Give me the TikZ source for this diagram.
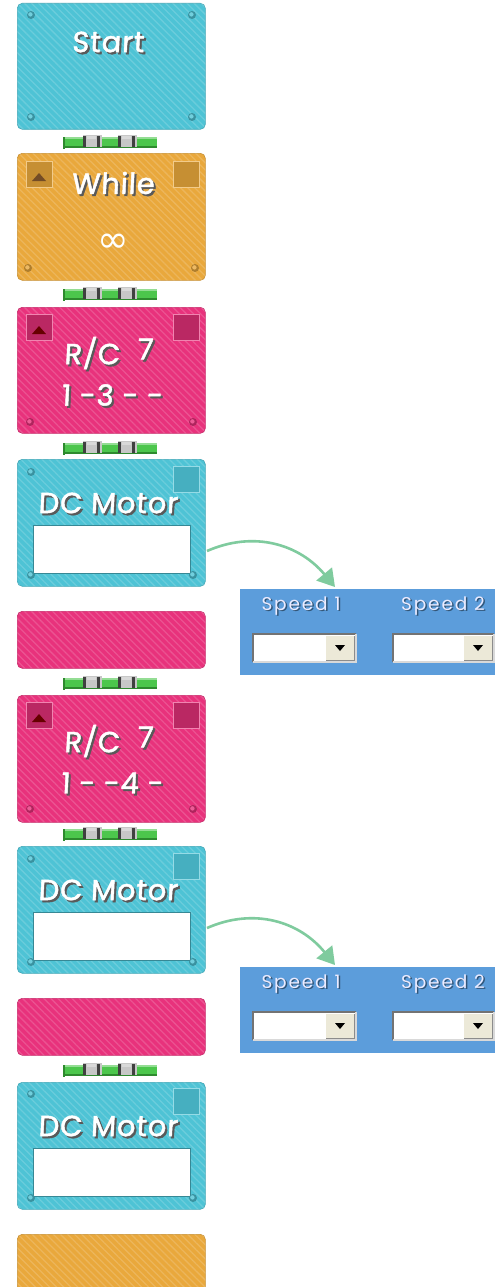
\documentclass[tikz,border=0pt]{standalone}
\usepackage{fontspec}
\newfontfamily\blkfont{Poppins}[FakeBold=1.6, FakeSlant=0.05, LetterSpace=3]
\newfontfamily\spdfont{Poppins}[LetterSpace=10]
\newfontfamily\symfont{DejaVu Sans}
\usetikzlibrary{patterns.meta,arrows.meta,calc}
\definecolor{cyanC}{HTML}{4EC3D5}
\definecolor{orangeC}{HTML}{E9A83C}
\definecolor{pinkC}{HTML}{E8327C}
\definecolor{panelC}{HTML}{5C9DDB}
\definecolor{arrowC}{HTML}{7FCB9E}
\definecolor{linkG}{HTML}{4CC64C}
\definecolor{linkD}{HTML}{2E8A2E}
\definecolor{btnC}{HTML}{ECE9D8}
\tikzset{
  blk/.style={rounded corners=5pt, minimum width=188pt, inner sep=0pt, anchor=north west,
    postaction={pattern={Lines[angle=-45,distance=5pt,line width=1.3pt]}, pattern color=white, opacity=0.16}},
  cyanblk/.style={blk, fill=cyanC, draw=cyanC!85!black, line width=0.6pt},
  orangeblk/.style={blk, fill=orangeC, draw=orangeC!85!black, line width=0.6pt},
  pinkblk/.style={blk, fill=pinkC, draw=pinkC!85!black, line width=0.6pt},
  title/.style={font=\blkfont\fontsize{29}{31}\selectfont, text=white, inner sep=0pt},
  titlesh/.style={font=\blkfont\fontsize{29}{31}\selectfont, text=black!65, inner sep=0pt},
  speedtxt/.style={font=\spdfont\fontsize{18.5}{20}\selectfont, text=blue!8!white, inner sep=0pt},
  speedsh/.style={font=\spdfont\fontsize{18.5}{20}\selectfont, text=panelC!55!black, inner sep=0pt},
  dot/.style={circle, inner sep=0pt, minimum size=8pt},
  sq/.style={anchor=north west, minimum width=26pt, minimum height=26pt, inner sep=0pt, line width=1pt},
  panel/.style={anchor=north west, fill=panelC, minimum width=255pt, minimum height=86pt, inner sep=0pt},
  whitebox/.style={anchor=north west, fill=white, minimum width=157pt, minimum height=48pt, inner sep=0pt, draw=cyanC!70!black, line width=0.5pt},
  flow/.style={draw=arrowC, line width=2.6pt, -{Triangle[length=17pt,width=20pt]}},
}
% shadowed title: name, x, y, text
\newcommand\shtitle[4]{%
  \node[titlesh] (#1s) at (#2+2,#3+2) {#4};
  \node[title] (#1) at (#2,#3) {#4};}
\newcommand\shspeed[4]{%
  \node[speedsh] (#1s) at (#2+1.5,#3+1.5) {#4};
  \node[speedtxt] (#1) at (#2,#3) {#4};}
% link bar: name, top y
\newcommand\linkbar[2]{%
  \fill[linkG] (63,#2+2) rectangle (157,#2+12);
  \fill[linkG!60!white] (63,#2+2) rectangle (157,#2+4);
  \fill[linkD] (63,#2+11) rectangle (157,#2+13);
  \fill[linkD] (63,#2+2) rectangle (65,#2+14);
  \foreach \gx in {83,118}{
    \fill[black!22] (\gx,#2) rectangle (\gx+19,#2+12);
    \fill[black!75] (\gx,#2+1) rectangle (\gx+3,#2+12);
    \fill[black!75] (\gx+14,#2+1) rectangle (\gx+17,#2+12);
    \fill[white!85!black] (\gx+4,#2+1) rectangle (\gx+13,#2+4);
  }
  \coordinate (#1) at (110,#2+6);}
% corner dot: name, x, y, colour
\newcommand\cornerdot[4]{%
  \node[dot, fill=#4!75!black] (#1) at (#2,#3) {};
  \fill[#4!80!white] (#2-0.6,#3-0.6) circle (2.2pt);}
% dropdown: name, left x, right x, top y
\newcommand\dropdown[4]{%
  \node[anchor=north west, fill=white, minimum width=#3-#2, minimum height=28pt, inner sep=0pt] (#1) at (#2,#4) {};
  \draw[black!55, line width=1.2pt] (#2,#4+28) -- (#2,#4) -- (#3,#4);
  \draw[black!15, line width=1.2pt] (#2,#4+28) -- (#3,#4+28) -- (#3,#4);
  \fill[btnC] (#3-30,#4+2) rectangle (#3-2,#4+26);
  \draw[black!45, line width=0.8pt] (#3-30,#4+26) -- (#3-2,#4+26) -- (#3-2,#4+2);
  \fill[black] (#3-21,#4+11) -- (#3-11,#4+11) -- (#3-16,#4+17) -- cycle;}
\begin{document}
\begin{tikzpicture}[x=1pt,y=-1pt]
\useasboundingbox (0,0) rectangle (495,1287);
\fill[white] (0,0) rectangle (495,1287);

% ---------- Start ----------
\node[cyanblk, minimum height=126pt] (start) at (17,3) {};
\shtitle{starttxt}{108}{42}{Start}
\cornerdot{s1}{31}{15}{cyanC}\cornerdot{s2}{192}{15}{cyanC}
\cornerdot{s3}{31}{117}{cyanC}\cornerdot{s4}{192}{117}{cyanC}
\linkbar{l1}{135}

% ---------- While ----------
\node[orangeblk, minimum height=127pt] (while) at (17,153) {};
\node[sq, fill=orangeC!85!black, draw=orangeC!60!white] (wl) at (26,161) {};
\fill[brown!60!black] (32,181) -- (46,181) -- (39,173) -- cycle;
\node[sq, fill=orangeC!85!black, draw=orangeC!60!white] (wr) at (173,161) {};
\shtitle{whiletxt}{113}{183}{While}
\node[font=\symfont\fontsize{38}{40}\selectfont, text=white, inner sep=0pt] (inf) at (113,243) {∞};
\cornerdot{w3}{28}{268}{orangeC}\cornerdot{w4}{195}{268}{orangeC}
\linkbar{l2}{287}

% ---------- R/C 1 ----------
\node[pinkblk, minimum height=126pt] (rc1) at (17,307) {};
\node[sq, fill=pinkC!80!black, draw=pinkC!60!white] (rc1l) at (26,314) {};
\fill[red!40!black] (32,334) -- (46,334) -- (39,326) -- cycle;
\node[sq, fill=pinkC!80!black, draw=pinkC!60!white] (rc1r) at (173,314) {};
\shtitle{rc1a}{92}{353}{R/C}
\shtitle{rc1b}{145}{349}{7}
\shtitle{rc1c}{112}{395}{1 -3 - -}
\cornerdot{r3}{30}{422}{pinkC}\cornerdot{r4}{193}{422}{pinkC}
\linkbar{l3}{441}

% ---------- DC Motor 1 ----------
\node[cyanblk, minimum height=127pt] (dc1) at (17,459) {};
\node[sq, fill=cyanC!90!black, draw=cyanC!60!white] (dc1r) at (173,466) {};
\shtitle{dc1t}{108}{503}{DC Motor}
\node[whitebox] (dc1w) at (33,525) {};
\cornerdot{d1}{31}{472}{cyanC}\cornerdot{d2}{31}{575}{cyanC}\cornerdot{d3}{193}{575}{cyanC}

% arrow 1 + panel 1
\node[panel] (p1) at (240,589) {};
\shspeed{p1a}{301}{606}{Speed 1}
\shspeed{p1b}{443}{606}{Speed 2}
\dropdown{p1d1}{253}{356}{634}
\dropdown{p1d2}{393}{494}{634}
\coordinate (a1s) at (207,551);
\coordinate (a1e) at (335,587);
\draw[flow] (a1s) .. controls (255,530) and (300,545) .. (a1e);

% pink bar 1
\node[pinkblk, minimum height=57pt] (bar1) at (17,611) {};
\linkbar{l4}{676}

% ---------- R/C 2 ----------
\node[pinkblk, minimum height=127pt] (rc2) at (17,695) {};
\node[sq, fill=pinkC!80!black, draw=pinkC!60!white] (rc2l) at (26,702) {};
\fill[red!40!black] (32,722) -- (46,722) -- (39,714) -- cycle;
\node[sq, fill=pinkC!80!black, draw=pinkC!60!white] (rc2r) at (173,702) {};
\shtitle{rc2a}{92}{741}{R/C}
\shtitle{rc2b}{145}{737}{7}
\shtitle{rc2c}{112}{783}{1 - -4 -}
\cornerdot{r5}{30}{809}{pinkC}\cornerdot{r6}{193}{809}{pinkC}
\linkbar{l5}{827}

% ---------- DC Motor 2 ----------
\node[cyanblk, minimum height=127pt] (dc2) at (17,846) {};
\node[sq, fill=cyanC!90!black, draw=cyanC!60!white] (dc2r) at (173,853) {};
\shtitle{dc2t}{108}{890}{DC Motor}
\node[whitebox] (dc2w) at (33,912) {};
\cornerdot{d4}{31}{859}{cyanC}\cornerdot{d5}{31}{962}{cyanC}\cornerdot{d6}{193}{962}{cyanC}

% arrow 2 + panel 2
\node[panel] (p2) at (240,967) {};
\shspeed{p2a}{301}{984}{Speed 1}
\shspeed{p2b}{443}{984}{Speed 2}
\dropdown{p2d1}{253}{356}{1012}
\dropdown{p2d2}{393}{494}{1012}
\coordinate (a2s) at (207,928);
\coordinate (a2e) at (335,965);
\draw[flow] (a2s) .. controls (255,907) and (300,922) .. (a2e);

% pink bar 2
\node[pinkblk, minimum height=57pt] (bar2) at (17,998) {};
\linkbar{l6}{1063}

% ---------- DC Motor 3 ----------
\node[cyanblk, minimum height=127pt] (dc3) at (17,1082) {};
\node[sq, fill=cyanC!90!black, draw=cyanC!60!white] (dc3r) at (173,1088) {};
\shtitle{dc3t}{108}{1126}{DC Motor}
\node[whitebox] (dc3w) at (33,1148) {};
\cornerdot{d7}{31}{1094}{cyanC}\cornerdot{d8}{31}{1198}{cyanC}\cornerdot{d9}{193}{1198}{cyanC}

% orange bar
\node[orangeblk, minimum height=60pt] (bar3) at (17,1234) {};
\end{tikzpicture}
\end{document}
